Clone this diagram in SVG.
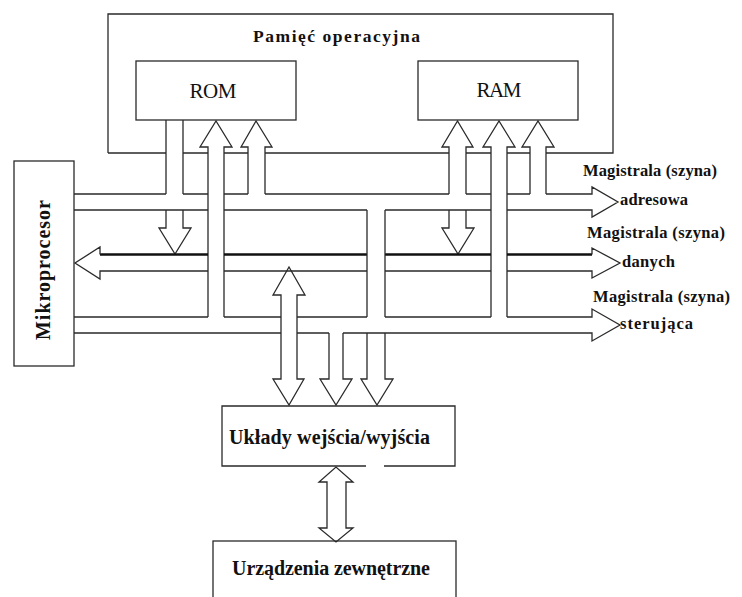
<svg xmlns="http://www.w3.org/2000/svg" width="742" height="597" viewBox="0 0 742 597">
<style>
.ln{fill:none;stroke:#2a2a2a;stroke-width:1.3;stroke-linejoin:miter}
.thick{fill:none;stroke:#111;stroke-width:2.6}
.t{font-family:"Liberation Serif","Times New Roman",serif;fill:#111}
.b{font-weight:bold}
</style>
<rect width="742" height="597" fill="#fff"/>
<g id="pamiec">
<path class="ln" d="M108,153 V14 H613 V153 H546 M530,153 H507 M491,153 H466 M449,153 H265 M248,153 H224 M208,153 H183 M166,153 H108"/>
<text class="t b" x="253" y="42" font-size="17.5" textLength="167" lengthAdjust="spacing">Pamięć  operacyjna</text>
</g>
<g id="rom">
<rect class="ln" x="136" y="61" width="160" height="59"/>
<text class="t" x="213" y="98" font-size="21" text-anchor="middle" textLength="47" lengthAdjust="spacing">ROM</text>
</g>
<g id="ram">
<rect class="ln" x="418" y="61" width="160" height="59"/>
<text class="t" x="499" y="97" font-size="21" text-anchor="middle" textLength="45" lengthAdjust="spacing">RAM</text>
</g>
<g id="mikroprocesor">
<rect class="ln" x="14" y="161" width="60" height="205"/>
<text class="t b" x="0" y="0" font-size="20" text-anchor="middle" textLength="140" lengthAdjust="spacing" transform="translate(50,270) rotate(-90)">Mikroprocesor</text>
</g>
<g id="io">
<path class="ln" d="M366,466 H222 V406 H455 V466 H384"/>
<text class="t b" x="229" y="444" font-size="20" textLength="201" lengthAdjust="spacing">Układy wejścia/wyjścia</text>
</g>
<g id="urzadzenia">
<rect class="ln" x="213" y="541" width="243" height="70"/>
<text class="t b" x="232" y="575" font-size="20" textLength="198" lengthAdjust="spacing">Urządzenia zewnętrzne</text>
</g>
<g id="connectors">
<path class="ln" d="M166,120 V194 M183,120 V194 M166,210 V228 H159 L175,254 L191,228 H183 V210"/>
<path class="ln" d="M208,317 V147 H200 L216,121 L232,147 H224 V317"/>
<path class="ln" d="M248,194 V147 H241 L256,121 L272,147 H265 V194"/>
<path class="ln" d="M449,194 V147 H442 L457.5,121 L473,147 H466 V194 M449,210 V228 H442 L458,254 L474,228 H466 V210"/>
<path class="ln" d="M491,317 V147 H483 L499,121 L515,147 H507 V317"/>
<path class="ln" d="M530,194 V147 H522 L538,121 L554,147 H546 V194"/>
<path class="ln" d="M74,194 H166 M183,194 H208 M224,194 H248 M265,194 H449 M466,194 H491 M507,194 H530 M546,194 H592 V187 L618,202 L592,217 V210 H507 M491,210 H385 M367,210 H224 M208,210 H74"/>
<path class="thick" d="M100,254.5 H208 M224,254.5 H367 M385,254.5 H491 M507,254.5 H592"/>
<path class="ln" d="M100,254.5 V247 L75,263 L100,279 V271 H208 M224,271 H367 M385,271 H491 M507,271 H592 V278 L620,263 L592,248 V254.5"/>
<path class="ln" d="M74,317 H208 M224,317 H281 M297,317 H367 M385,317 H491 M507,317 H592 V309 L620,325 L592,341 V333 H343 M329,333 H297 M281,333 H74"/>
<path class="ln" d="M281,295 H273 L289,267 L305,295 H297 V379 H304 L289,405 L273,379 H281 Z"/>
<path class="ln" d="M329,333 V379 H320 L336,405 L352,379 H343 V333"/>
<path class="ln" d="M367,210 V317 M385,210 V317 M367,333 V379 H361 L377,405 L393,379 H385 V333"/>
<path class="ln" d="M327,482 H319 L336,467 L353,482 H346 V528 H353 L336,542 L319,528 H327 Z"/>
</g>
<g id="labels">
<text class="t b" x="583" y="176" font-size="16.5" textLength="134" lengthAdjust="spacing">Magistrala (szyna)</text>
<text class="t b" x="620" y="205" font-size="16.5" textLength="68" lengthAdjust="spacing">adresowa</text>
<text class="t b" x="587" y="238" font-size="16.5" textLength="138" lengthAdjust="spacing">Magistrala (szyna)</text>
<text class="t b" x="622" y="267" font-size="16.5" textLength="53" lengthAdjust="spacing">danych</text>
<text class="t b" x="593" y="302" font-size="16.5" textLength="137" lengthAdjust="spacing">Magistrala (szyna)</text>
<text class="t b" x="620" y="329" font-size="16.5" textLength="73" lengthAdjust="spacing">sterująca</text>
</g>
</svg>
